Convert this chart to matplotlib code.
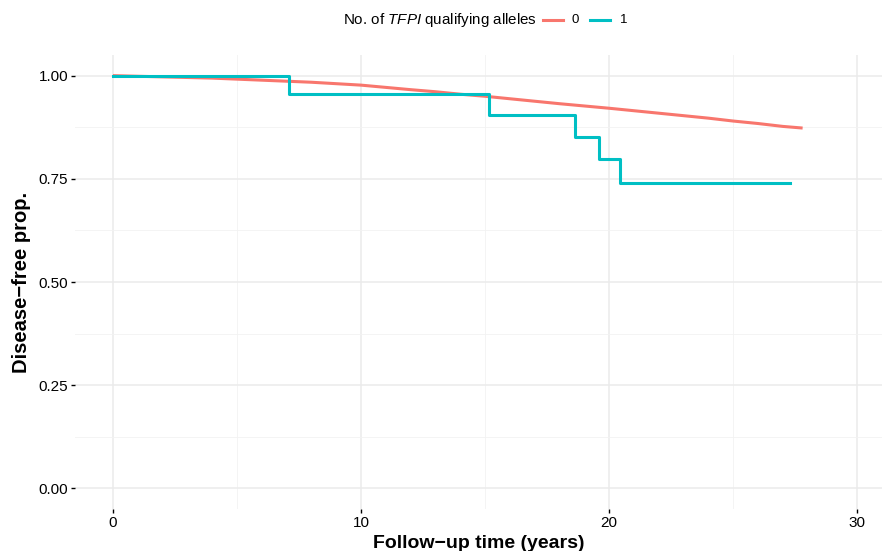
import matplotlib
matplotlib.use("Agg")
import matplotlib.pyplot as plt
from matplotlib.lines import Line2D

plt.rcParams['font.family'] = ['Liberation Sans', 'DejaVu Sans']
plt.rcParams['mathtext.fontset'] = 'custom'
plt.rcParams['mathtext.rm'] = 'Liberation Sans'
plt.rcParams['mathtext.it'] = 'Liberation Sans:italic'

# Group 0 (no qualifying alleles): survival curve
t0 = [0, 2, 4, 6, 8, 10, 12, 13, 14, 15, 16, 18, 20, 22, 24, 25, 26, 27, 27.8]
s0 = [1.000, 0.997, 0.994, 0.989, 0.984, 0.977, 0.966, 0.961, 0.955, 0.950,
      0.944, 0.932, 0.921, 0.909, 0.897, 0.890, 0.884, 0.877, 0.873]

# Group 1: Kaplan-Meier steps
t1 = [0, 7.1, 15.16, 18.64, 19.6, 20.42, 27.3]
s1 = [1.000, 0.955, 0.905, 0.852, 0.799, 0.740, 0.740]

xticks = [0, 10, 20, 30]
yticks = [0.00, 0.25, 0.50, 0.75, 1.00]
yticklabels = ["0.00", "0.25", "0.50", "0.75", "1.00"]

c0 = "#F8766D"
c1 = "#00BFC4"

W, H = 882, 551
fig = plt.figure(figsize=(W / 100, H / 100), dpi=100)
left, right, top, bottom = 75, 882, 55, 509
ax = fig.add_axes([left / W, 1 - bottom / H, (right - left) / W, (bottom - top) / H])

ax.plot(t0, s0, color=c0, lw=2.2, solid_capstyle='butt')
ax.step(t1, s1, where='post', color=c1, lw=2.2)

ax.set_xlim(-1.53, 31.0)
ax.set_ylim(-0.05, 1.05)
ax.set_xticks(xticks)
ax.set_xticks([5, 15, 25], minor=True)
ax.set_yticks(yticks)
ax.set_yticklabels(yticklabels)
ax.set_yticks([0.125, 0.375, 0.625, 0.875], minor=True)
ax.grid(which='major', color='#EBEBEB', lw=1.1)
ax.grid(which='minor', color='#F2F2F2', lw=0.6)
ax.set_axisbelow(True)
for s in ax.spines.values():
    s.set_visible(False)
ax.tick_params(which='major', length=3, width=1, color='black', labelsize=11,
               labelcolor='black', pad=2)
ax.tick_params(which='minor', length=0)

ax.set_xlabel("Follow\u2212up time (years)", fontsize=14, fontweight='bold', labelpad=3.5)
ax.set_ylabel("Disease\u2212free prop.", fontsize=14.5, fontweight='bold', labelpad=5)

# Legend at top
ly = 1 - 20 / H
fig.text(537 / W, ly, r"No. of $\mathit{TFPI}$ qualifying alleles", ha='right', va='center',
         fontsize=10.9)
fig.add_artist(Line2D([543 / W, 563 / W], [ly, ly], color=c0, lw=2.2, transform=fig.transFigure))
fig.text(571 / W, ly, "0", ha='left', va='center', fontsize=9.5)
fig.add_artist(Line2D([590 / W, 610 / W], [ly, ly], color=c1, lw=2.2, transform=fig.transFigure))
fig.text(620 / W, ly, "1", ha='left', va='center', fontsize=9.5)

fig.savefig("out.png", dpi=100)
